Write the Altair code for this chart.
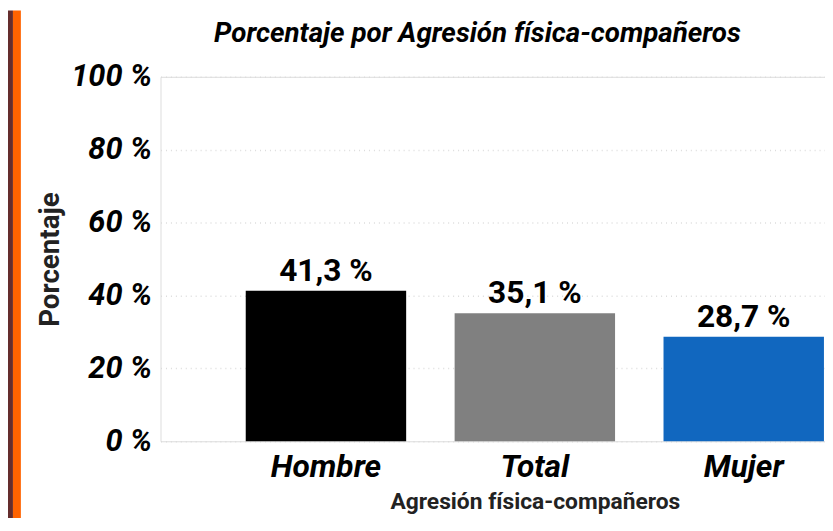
import altair as alt
import pandas as pd

categories = ["Hombre", "Total", "Mujer"]
values = [41.3, 35.1, 28.7]
bar_colors = ["#000000", "#808080", "#1167BF"]
y_ticks = [0, 20, 40, 60, 80, 100]

title_text = "Porcentaje por Agresión física-compañeros"
x_title = "Agresión física-compañeros"
y_title = "Porcentaje"

FONT = "Roboto"

df = pd.DataFrame({"cat": categories, "val": values})
frame = pd.DataFrame({"k": [0]})

x_enc = alt.X(
    "cat:N",
    sort=categories,
    title=x_title,
    scale=alt.Scale(range=[0, 756], paddingInner=0.232, paddingOuter=0.408),
    axis=alt.Axis(
        labelAngle=0, labelFont=FONT, labelFontSize=32, labelFontStyle="italic",
        labelFontWeight="bold", labelColor="#000000", labelPadding=11,
        ticks=False, domain=False, grid=False,
        titleFont=FONT, titleFontSize=23, titleFontWeight="bold",
        titleColor="#222222", titlePadding=8,
    ),
)
y_enc = alt.Y(
    "val:Q",
    title=y_title,
    scale=alt.Scale(domain=[0, 100]),
    axis=alt.Axis(
        values=y_ticks, labelExpr="datum.value + ' %'",
        labelFont=FONT, labelFontSize=31, labelFontStyle="italic",
        labelFontWeight="bold", labelColor="#000000", labelPadding=9,
        ticks=False, domain=False,
        grid=True, gridColor="#dcdcdc", gridDash=[1, 4], gridWidth=1.5,
        titleFont=FONT, titleFontSize=28, titleFontWeight="bold",
        titleColor="#222222", titlePadding=6,
    ),
)

base = alt.Chart(df)

bars = base.mark_bar().encode(
    x=x_enc,
    y=y_enc,
    color=alt.Color("cat:N", scale=alt.Scale(domain=categories, range=bar_colors), legend=None),
)

labels = base.transform_calculate(
    label="replace(format(datum.val, '.1f'), '.', ',') + ' %'"
).mark_text(
    font=FONT, fontSize=32, fontWeight="bold", color="#000000",
    baseline="bottom", dy=-3,
).encode(
    x=alt.X("cat:N", sort=categories),
    y=alt.Y("val:Q"),
    text="label:N",
)

title_mark = alt.Chart(frame).mark_text(
    font=FONT, fontSize=28, fontStyle="italic", fontWeight="bold",
    color="#000000", baseline="alphabetic", align="center",
).encode(
    x=alt.value(320), y=alt.value(-35), text=alt.value(title_text)
)

brown = alt.Chart(frame).mark_rect(color="#642d2d").encode(
    x=alt.value(-154), x2=alt.value(-149), y=alt.value(-67), y2=alt.value(460)
)
orange = alt.Chart(frame).mark_rect(color="#ff6300").encode(
    x=alt.value(-149), x2=alt.value(-141), y=alt.value(-67), y2=alt.value(460)
)

chart = alt.layer(brown, orange, bars, labels, title_mark).properties(
    width=671,
    height=368,
    padding={"left": 154, "top": 67, "right": 0, "bottom": 75},
    autosize=alt.AutoSizeParams(type="none"),
).configure_view(stroke=None).configure(background="#ffffff")

chart.save("out.html", embed_options={"renderer": "svg", "actions": False})
